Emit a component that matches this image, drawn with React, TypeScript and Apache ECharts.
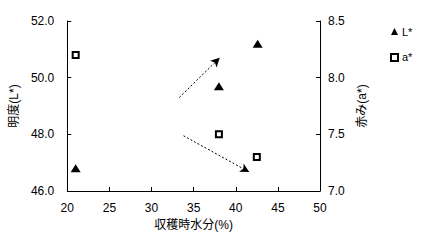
import React, { useEffect, useRef } from "react";
import * as echarts from "echarts";

const moisture = [21.0, 38.0, 42.6];
const lValues = [46.8, 49.7, 51.2];
const moistureA = [21.0, 38.0, 42.5];
const aValues = [8.2, 7.5, 7.3];
const upArrow = [[33.3, 49.3], [38.1, 50.7]];
const downArrow = [[33.8, 47.95], [41.6, 46.67]];
const seriesNames = ["L*", "a*"];

const FONT = "Liberation Sans, Noto Sans CJK JP, sans-serif";

export default function App() {
  const ref = useRef<HTMLDivElement>(null);
  useEffect(() => {
    if (!ref.current) return;
    const chart = echarts.init(ref.current, null, { renderer: "svg" });
    const axisCommon = {
      axisLine: { show: true, lineStyle: { color: "#000", width: 1 } },
      axisTick: { show: true, inside: true, length: 4, lineStyle: { color: "#000" } },
      splitLine: { show: false },
      axisLabel: { color: "#000", fontSize: 12, fontFamily: FONT },
      nameTextStyle: { color: "#000", fontSize: 12, fontFamily: FONT },
    };
    chart.setOption({
      animation: false,
      backgroundColor: "#fff",
      grid: { left: 61, right: 111, top: 21, bottom: 56, containLabel: false },
      legend: {
        orient: "vertical",
        left: 385,
        top: 21,
        itemGap: 15,
        itemWidth: 7,
        itemHeight: 7,
        textStyle: { color: "#000", fontSize: 11, fontFamily: FONT, padding: [0, 0, 0, -1] },
        data: [
          { name: seriesNames[0], icon: "triangle", itemStyle: { color: "#000", borderWidth: 0 } },
          { name: seriesNames[1], icon: "rect", itemStyle: { color: "#fff", borderColor: "#000", borderWidth: 2 } },
        ],
      },
      xAxis: {
        type: "value",
        min: 20,
        max: 50,
        interval: 5,
        ...axisCommon,
        axisLabel: { ...axisCommon.axisLabel, margin: 11 },
        name: "収穫時水分(%)",
        nameLocation: "middle",
        nameGap: 25,
      },
      yAxis: [
        {
          type: "value",
          min: 46,
          max: 52,
          interval: 2,
          position: "left",
          ...axisCommon,
          axisLabel: { ...axisCommon.axisLabel, margin: 13, formatter: (v: number) => v.toFixed(1) },
          name: "明度(L*)",
          nameLocation: "middle",
          nameRotate: 90,
          nameGap: 40,
        },
        {
          type: "value",
          min: 7.0,
          max: 8.5,
          interval: 0.5,
          position: "right",
          ...axisCommon,
          axisLabel: { ...axisCommon.axisLabel, margin: 8, formatter: (v: number) => v.toFixed(1) },
          name: "赤み(a*)",
          nameLocation: "middle",
          nameRotate: 90,
          nameGap: 33,
        },
      ],
      series: [
        {
          name: seriesNames[0],
          type: "scatter",
          yAxisIndex: 0,
          symbol: "triangle",
          symbolSize: [10, 8],
          itemStyle: { color: "#000", opacity: 1 },
          data: moisture.map((x, i) => [x, lValues[i]]),
          markLine: {
            silent: true,
            symbol: ["none", "arrow"],
            symbolSize: [7, 9],
            label: { show: false },
            lineStyle: { color: "#000", type: [2, 2], width: 1 },
            data: [
              [{ coord: upArrow[0] }, { coord: upArrow[1] }],
              [{ coord: downArrow[0] }, { coord: downArrow[1] }],
            ],
          },
        },
        {
          name: seriesNames[1],
          type: "scatter",
          yAxisIndex: 1,
          symbol: "rect",
          symbolSize: 6,
          itemStyle: { color: "#fff", borderColor: "#000", borderWidth: 2, opacity: 1 },
          data: moistureA.map((x, i) => [x, aValues[i]]),
        },
      ],
    });
    return () => chart.dispose();
  }, []);
  return <div ref={ref} style={{ width: 431, height: 247, position: "absolute", left: 0, top: 0 }} />;
}
